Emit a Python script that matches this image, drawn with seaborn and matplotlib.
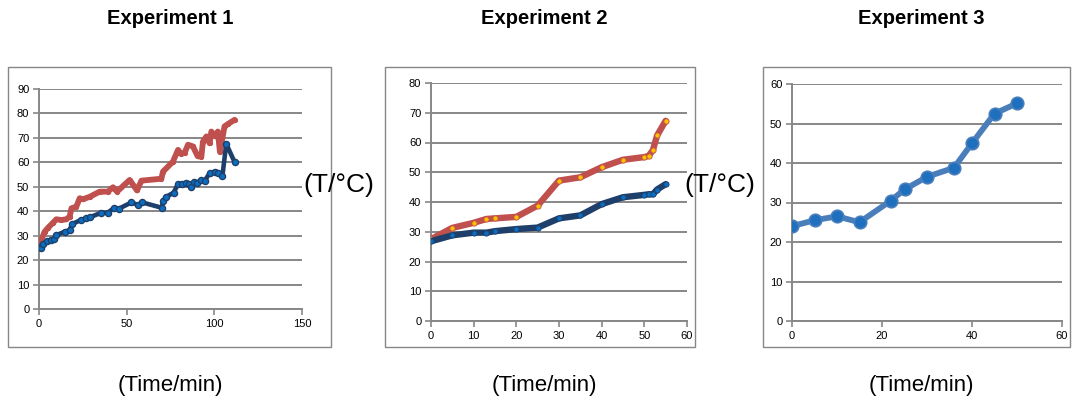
import matplotlib
matplotlib.use("Agg")
import matplotlib.pyplot as plt
import seaborn as sns
import pandas as pd
from matplotlib.patches import Rectangle

# ---------------- data ----------------
titles = ["Experiment 1", "Experiment 2", "Experiment 3"]
y_label = "(T/°C)"
x_label = "(Time/min)"

# Experiment 1
e1_red_x = [0, 1.3, 3.2, 5.1, 8, 9.9, 12.7, 15.6, 17.5, 18.5, 21.3, 23.2, 25.1, 28.9,
            34.6, 39.3, 42.2, 44.5, 51.7, 55.9, 58.4, 69.8, 70.7, 76.4, 79.3, 81, 83.1,
            85, 87.8, 90.5, 92.6, 93.5, 95.5, 97.3, 98.3, 100.8, 102, 103.2, 105.8, 108, 111.6]
e1_red_y = [26, 28.2, 31.6, 33.2, 35.3, 36.7, 36.4, 36.7, 37.8, 41.2, 41.9, 45.3, 44.9, 45.9,
            48, 48, 49.8, 48, 52.8, 48.5, 52.5, 53.3, 56.2, 60.3, 65.1, 63.5, 64,
            67.2, 66.5, 62.5, 62.3, 68.5, 70.6, 67.8, 72.6, 70.6, 72.6, 64.2, 74.7, 75.8, 77.4]
e1_blue_x = [0, 1, 2.3, 4.8, 7, 8.5, 9.9, 14.6, 17.5, 18.8, 23.8, 27, 28.9, 35.6, 39.3,
             42.5, 45.5, 52.7, 56.3, 58.9, 70.1, 70.7, 72.6, 76.8, 79.3, 81.6, 83.7, 85.5,
             86.9, 88.4, 90.3, 92.6, 94.5, 97.3, 100.2, 102.1, 104.6, 106.8, 111.6]
e1_blue_y = [25.2, 25.0, 26.4, 27.9, 28.4, 28.6, 30.2, 31.6, 32.3, 34.7, 36.4, 37.1, 37.5,
             39.4, 39.4, 41.2, 41.0, 43.6, 42.6, 43.6, 41.4, 44.3, 45.9, 47.6, 51.2, 51.2,
             51.4, 51.2, 49.8, 52.1, 51.7, 52.8, 52.5, 55.5, 56.2, 55.5, 54.4, 67.6, 60]

# Experiment 2
e2_x = [0, 5, 10, 13, 15, 20, 25, 30, 35, 40, 45, 50, 51, 52, 53, 55]
e2_red_y = [27.5, 31.3, 33, 34.3, 34.5, 35, 38.8, 47.2, 48.3, 51.7, 54.2, 55.1, 55.5, 57.4, 62.4, 67.3]
e2_blue_y = [26.8, 28.8, 29.7, 29.7, 30.2, 30.9, 31.4, 34.5, 35.5, 39.3, 41.6, 42.4, 42.6, 42.6, 44.2, 46]

# Experiment 3
e3_x = [0, 5, 10, 15, 22, 25, 30, 36, 40, 45, 50]
e3_y = [24, 25.5, 26.5, 25, 30.5, 33.3, 36.5, 38.8, 45, 52.5, 55.1]

# axis settings
e1_xticks = [0, 50, 100, 150]
e1_yticks = list(range(0, 91, 10))
e2_xticks = list(range(0, 61, 10))
e2_yticks = list(range(0, 81, 10))
e3_xticks = [0, 20, 40, 60]
e3_yticks = list(range(0, 61, 10))

# ---------------- style ----------------
sns.set_theme(style="white")
plt.rcParams['font.family'] = ['Liberation Sans', 'DejaVu Sans']

W, H = 1076, 400
fig = plt.figure(figsize=(W / 100, H / 100), dpi=100)

GRID = "#878787"
RED = "#C0504D"
NAVY = "#1F3F6B"
MBLUE = "#0A6FC2"
LBLUE = "#4A7EBB"


def px_axes(x0, y0, x1, y1):
    return fig.add_axes([x0 / W, 1 - y1 / H, (x1 - x0) / W, (y1 - y0) / H])


def chart_box(x0, y0, x1, y1):
    fig.patches.append(Rectangle((x0 / W, 1 - y1 / H), (x1 - x0) / W, (y1 - y0) / H,
                                 transform=fig.transFigure, fill=False,
                                 edgecolor=GRID, linewidth=1.0, zorder=0))


def style_axes(ax, xticks, yticks):
    ax.set_xlim(xticks[0], xticks[-1])
    ax.set_ylim(yticks[0], yticks[-1])
    ax.set_xticks(xticks)
    ax.set_yticks(yticks)
    ax.yaxis.grid(True, color=GRID, linewidth=1.4)
    ax.xaxis.grid(False)
    ax.set_axisbelow(True)
    for s in ["top", "right"]:
        ax.spines[s].set_visible(False)
    for s in ["left", "bottom"]:
        ax.spines[s].set_color(GRID)
        ax.spines[s].set_linewidth(1.4)
    ax.tick_params(axis="both", which="major", direction="out", length=4, width=1.2,
                   color=GRID, labelsize=8, labelcolor="black", pad=3,
                   bottom=True, left=True)
    ax.set_xlabel("")
    ax.set_ylabel("")
    ax.set_facecolor("white")
    for sp in ax.spines.values():
        sp.set_zorder(3)


# chart area borders
chart_box(8, 67, 331, 347)
chart_box(385, 67, 695, 347)
chart_box(763, 67, 1070, 347)

# ---------- Experiment 1 ----------
ax1 = px_axes(39, 89, 302, 309)
d1r = pd.DataFrame({"t": e1_red_x, "T": e1_red_y})
d1b = pd.DataFrame({"t": e1_blue_x, "T": e1_blue_y})
sns.lineplot(data=d1r, x="t", y="T", ax=ax1, sort=False, color=RED, linewidth=4.2,
             marker="o", markersize=3, markerfacecolor=RED, markeredgecolor=RED, zorder=4)
sns.lineplot(data=d1b, x="t", y="T", ax=ax1, sort=False, color=NAVY, linewidth=3.3,
             marker="o", markersize=4.4, markerfacecolor=MBLUE, markeredgecolor=NAVY,
             markeredgewidth=1.0, zorder=5)
style_axes(ax1, e1_xticks, e1_yticks)

# ---------- Experiment 2 ----------
ax2 = px_axes(431, 83, 687, 321)
d2 = pd.DataFrame({"t": e2_x, "red": e2_red_y, "blue": e2_blue_y})
sns.lineplot(data=d2, x="t", y="red", ax=ax2, sort=False, color=RED, linewidth=4.6,
             marker="o", markersize=3.8, markerfacecolor="#FFC000", markeredgecolor=RED,
             markeredgewidth=0.6, zorder=4)
sns.lineplot(data=d2, x="t", y="blue", ax=ax2, sort=False, color=NAVY, linewidth=4.6,
             marker="o", markersize=3.8, markerfacecolor=MBLUE, markeredgecolor=NAVY,
             markeredgewidth=0.6, zorder=5)
style_axes(ax2, e2_xticks, e2_yticks)

# ---------- Experiment 3 ----------
ax3 = px_axes(792, 84, 1062, 321)
d3 = pd.DataFrame({"t": e3_x, "T": e3_y})
sns.lineplot(data=d3, x="t", y="T", ax=ax3, sort=False, color=LBLUE, linewidth=4.2,
             marker="o", markersize=9, markerfacecolor="#1F6FBF", markeredgecolor=LBLUE,
             markeredgewidth=1.2, zorder=4)
style_axes(ax3, e3_xticks, e3_yticks)

# ---------- texts ----------
title_pos = [170, 544, 921]
for t, cx in zip(titles, title_pos):
    fig.text(cx / W, 1 - 19 / H, t, ha="center", va="center", fontsize=14.5,
             fontweight="bold", color="black")

for cx in title_pos:
    fig.text(cx / W, 1 - 385 / H, x_label, ha="center", va="center", fontsize=16,
             color="black")

for cx in [339, 720]:
    fig.text(cx / W, 1 - 185 / H, y_label, ha="center", va="center", fontsize=19,
             color="black", zorder=10)

fig.savefig("out.png", dpi=100, facecolor="white")
